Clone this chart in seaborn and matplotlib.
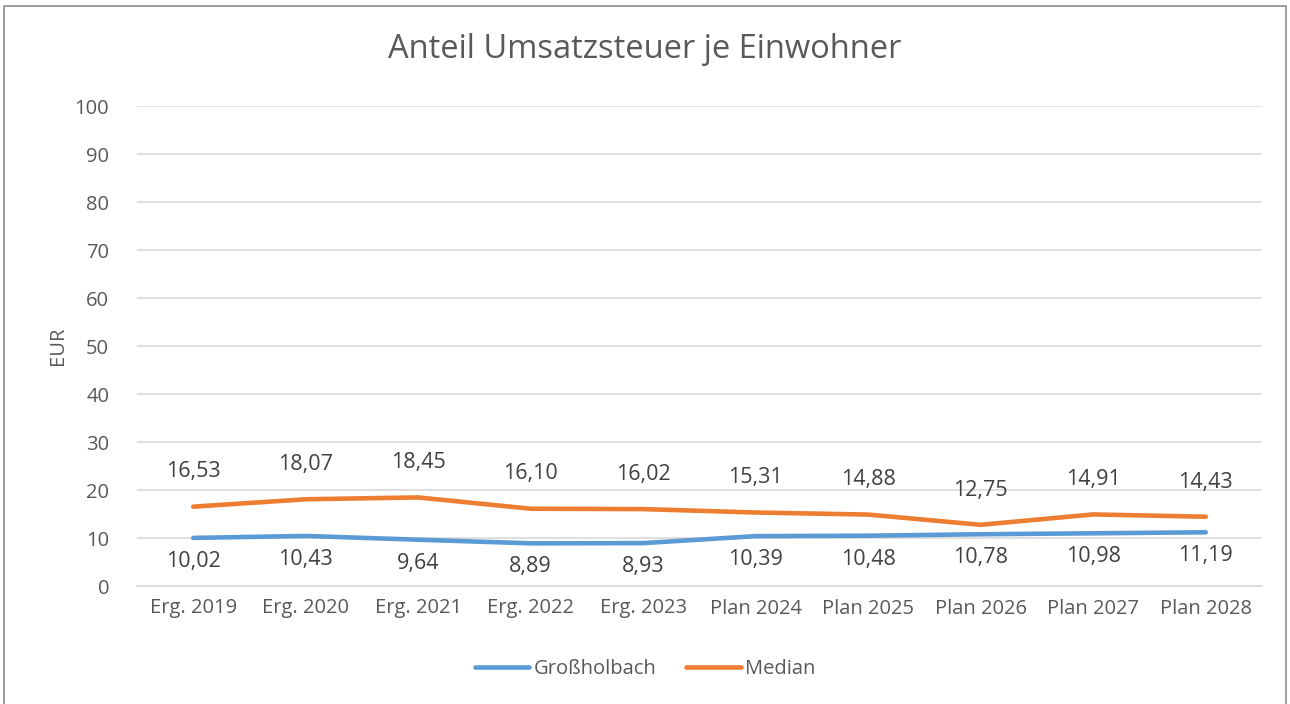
import matplotlib
matplotlib.use("Agg")
import matplotlib.pyplot as plt
import seaborn as sns
import pandas as pd
from matplotlib.patches import Rectangle
from matplotlib.lines import Line2D

categories = ["Erg. 2019", "Erg. 2020", "Erg. 2021", "Erg. 2022", "Erg. 2023",
              "Plan 2024", "Plan 2025", "Plan 2026", "Plan 2027", "Plan 2028"]
grossholbach = [10.02, 10.43, 9.64, 8.89, 8.93, 10.39, 10.48, 10.78, 10.98, 11.19]
median = [16.53, 18.07, 18.45, 16.10, 16.02, 15.31, 14.88, 12.75, 14.91, 14.43]
series_names = ["Großholbach", "Median"]
yticks = list(range(0, 101, 10))

sns.set_theme(style="white")
plt.rcParams["font.family"] = ["Open Sans", "DejaVu Sans"]

W, H = 1290, 704
fig = plt.figure(figsize=(W / 100, H / 100), dpi=100)
ax = fig.add_axes([137 / W, 1 - 586 / H, (1262 - 137) / W, (586 - 106) / H])

df = pd.DataFrame({
    "cat": categories * 2,
    "x": list(range(len(categories))) * 2,
    "val": grossholbach + median,
    "series": [series_names[0]] * len(categories) + [series_names[1]] * len(categories),
})
colors = {"Großholbach": "#5B9BD5", "Median": "#ED7D31"}
sns.lineplot(data=df, x="x", y="val", hue="series", palette=colors, ax=ax,
             linewidth=3.3, legend=False, solid_capstyle="round", zorder=3)

ax.set_xlim(-0.5, len(categories) - 0.5)
ax.set_ylim(0, 100)
ax.set_yticks(yticks)
ax.set_yticklabels([str(t) for t in yticks])
ax.set_xticks(range(len(categories)))
ax.set_xticklabels(categories)
ax.tick_params(axis="both", length=0, labelsize=14.5, colors="#595959")
ax.tick_params(axis="y", pad=20)
ax.tick_params(axis="x", pad=9)
ax.grid(axis="y", color="#D9D9D9", linewidth=1.2)
ax.set_axisbelow(True)
for s in ["top", "right", "left"]:
    ax.spines[s].set_visible(False)
ax.spines["bottom"].set_color("#D9D9D9")
ax.spines["bottom"].set_linewidth(1.2)
ax.set_xlabel("")
ax.set_ylabel("EUR", fontsize=14.5, color="#595959", labelpad=5)

def fmt(v):
    return f"{v:.2f}".replace(".", ",")

for i, v in enumerate(median):
    ax.annotate(fmt(v), (i, v), xytext=(0, 25), textcoords="offset points",
                ha="center", va="center", fontsize=15.5, color="#404040")
for i, v in enumerate(grossholbach):
    ax.annotate(fmt(v), (i, v), xytext=(0, -17), textcoords="offset points",
                ha="center", va="center", fontsize=15.5, color="#404040")

fig.text(0.5, 1 - 49 / H, "Anteil Umsatzsteuer je Einwohner", ha="center", va="center",
         fontsize=23.5, color="#595959")

handles = [Line2D([0], [0], color=colors[n], lw=3.3, solid_capstyle="round") for n in series_names]
fig.legend(handles, series_names, loc="center", bbox_to_anchor=(0.5, 1 - 669 / H), ncol=2,
           frameon=False, fontsize=14.5, handlelength=2.7, handletextpad=0.2, columnspacing=1.5,
           labelcolor="#595959")

fig.patches.append(Rectangle((4 / W, -0.01), (1286 - 4) / W, 1 - 6 / H + 0.01,
                             transform=fig.transFigure, fill=False, edgecolor="#8C8C8C", linewidth=1.2))

fig.savefig("out.png", dpi=100, facecolor="white")
